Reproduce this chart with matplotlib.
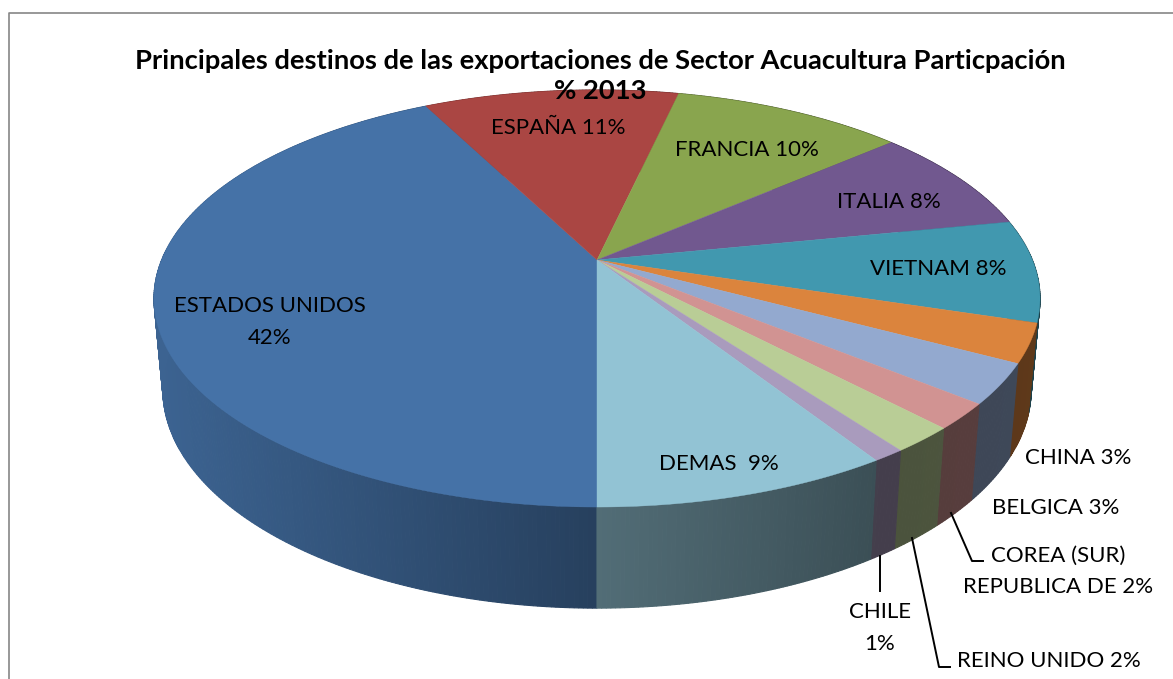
import numpy as np
import matplotlib
matplotlib.use("Agg")
import matplotlib.pyplot as plt

plt.rcParams['font.family'] = ['Lato', 'DejaVu Sans']

# Datos (participacion %)
paises = ["ESTADOS UNIDOS", "ESPAÑA", "FRANCIA", "ITALIA", "VIETNAM", "CHINA",
          "BELGICA", "COREA (SUR) REPUBLICA DE", "REINO UNIDO", "CHILE", "DEMAS"]
valores = [42.4, 11.1, 10.1, 8.2, 7.9, 3.0, 3.1, 2.0, 2.0, 1.0, 9.1]
colores = ["#4572A7", "#AA4643", "#89A54E", "#71588F", "#4198AF", "#DB843D",
           "#93A9CF", "#D19392", "#B9CD96", "#A99BBD", "#92C3D4"]

titulo = "Principales destinos de las exportaciones de Sector Acuacultura Particpación\n% 2013"

# Etiquetas: texto, x, y
etiquetas = [
    ("ESTADOS UNIDOS\n42%", 270, 322),
    ("ESPAÑA 11%", 558, 128),
    ("FRANCIA 10%", 747, 150),
    ("ITALIA 8%", 889, 202),
    ("VIETNAM 8%", 938, 269),
    ("CHINA 3%", 1078, 458),
    ("BELGICA 3%", 1056, 508),
    ("COREA (SUR)\nREPUBLICA DE 2%", 1058, 571),
    ("REINO UNIDO 2%", 1049, 661),
    ("CHILE\n1%", 880, 628),
    ("DEMAS  9%", 719, 464),
]

# Proyeccion en perspectiva del disco (pixeles de la imagen)
cx, cy = 597, 260
a, b, k = 201.4, 435.4, 0.1847


def cara_superior(ang):
    # ang: grados en sentido horario desde abajo
    t = np.radians(ang)
    X = -np.sin(t)
    Y = -np.cos(t)
    w = 1 + k * Y
    return cx + b * X / w, cy - a * Y / w


def cara_inferior(x, y):
    return cx + 0.98 * (x - cx), 349 + 1.049 * (y - cy)


def sombra(x):
    return np.interp((x - cx) / 443, [-1, 0, 0.65, 1], [0.87, 0.56, 0.40, 0.43])


fig = plt.figure(figsize=(11.73, 6.79), dpi=100)
ax = fig.add_axes([0, 0, 1, 1])
ax.set_xlim(0, 1173)
ax.set_ylim(679, 0)
ax.axis("off")

# Marco (sin lado derecho, la imagen esta recortada)
ax.plot([8.5, 8.5, 1173], [679, 12.5, 12.5], color="#868686", lw=1.2)

fin = np.cumsum(valores) / sum(valores) * 360
ini = np.concatenate(([0], fin[:-1]))

# Pared lateral: tiras verticales sombreadas
for a0, a1, col in zip(ini, fin, colores):
    n = max(int((a1 - a0) * 2), 2)
    angs = np.linspace(a0, a1, n + 1)
    base = np.array(matplotlib.colors.to_rgb(col))
    for s0, s1 in zip(angs[:-1], angs[1:]):
        x0, y0 = cara_superior(s0)
        x1, y1 = cara_superior(s1)
        x2, y2 = cara_inferior(x1, y1)
        x3, y3 = cara_inferior(x0, y0)
        c = base * sombra((x0 + x1) / 2)
        ax.fill([x0, x1, x2, x3], [y0, y1, y2, y3], color=c, lw=0.8, zorder=2)

# Cara superior
for a0, a1, col in zip(ini, fin, colores):
    angs = np.linspace(a0, a1, max(int((a1 - a0) * 2), 2) + 1)
    xs, ys = cara_superior(angs)
    ax.fill(np.r_[cx, xs], np.r_[cy, ys], color=col, lw=0.3, zorder=3)

# Lineas guia
guias = [([880, 880], [556, 591]),
         ([912, 939, 950], [538, 667, 667]),
         ([951, 972, 983], [513, 561, 561])]
for gx, gy in guias:
    ax.plot(gx, gy, color="black", lw=1.4, zorder=4)

for txt, x, y in etiquetas:
    ax.text(x, y, txt, ha="center", va="center", fontsize=16, color="black",
            linespacing=1.7, zorder=5)

ax.text(600, 76, titulo, ha="center", va="center", fontsize=19.7, fontweight="bold",
        color="black", linespacing=1.28, zorder=5)

fig.savefig("out.png", dpi=100)
